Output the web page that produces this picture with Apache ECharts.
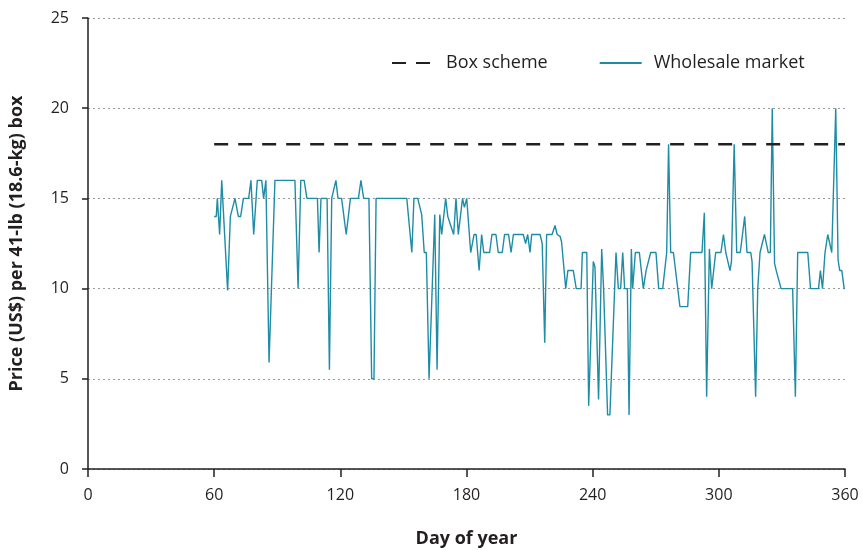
<!DOCTYPE html>
<html>
<head>
<meta charset="utf-8">
<script src="https://cdn.jsdelivr.net/npm/echarts@6/dist/echarts.min.js"></script>
<style>
html,body{margin:0;padding:0;background:#fff;}
#chart{width:863px;height:550px;}
</style>
</head>
<body>
<div id="chart"></div>
<script>
// Data (day of year, US$ per box)
const boxSchemeDays = [60, 360];
const boxSchemePrice = [18, 18];

const wholesaleDays = [60,61,61.5,62.6,63.6,66.4,67.7,68.6,69.9,71.5,72.6,73.9,76.4,77.5,78.8,80.5,82.6,83.5,84.6,86.1,88.9,98.4,99.9,101.2,102.8,104.1,109.1,109.9,110.8,113.7,114.8,115.9,116.8,117.9,118.9,120.6,122.8,124.8,128.6,129.8,131.1,133.6,134.9,136,137,151.6,154,155,156.8,158.7,159.9,160.9,162.2,163,164.9,166,167.3,168.2,169,170.1,171.1,172,173.9,175,176.1,178.1,179,180.1,182,183.6,184.6,186,187.2,188.2,191,192.1,194,195.1,197,198.1,200,201.2,202.3,207,208.1,209.1,210.2,211,215,216,217.2,218.1,220.7,222.1,223.1,224.5,225.2,227.2,228.2,230.8,232.2,234.5,235.1,237.2,238.1,240.3,241.1,242.8,244.3,245.2,246.1,247.1,248.2,251.1,252.2,253.3,254.3,255.2,256.5,257.3,258.4,259,260.3,262.2,264.1,265.4,266.3,267.6,270.1,271.4,273.3,275.2,276.1,277.1,278.4,281.5,285.2,286.6,292,293.1,294.2,295.5,296.6,297.4,298.5,301,302.2,303.3,304.2,305.3,306,307.3,308.5,310.2,312.3,313.4,315.2,315.8,317.5,318.5,319.6,320.5,321.7,322.6,323.5,324.5,325.4,326.5,327.3,328.2,329.6,335.1,336.4,337.5,342.3,343.6,347.4,348.3,349.3,350.5,351.8,352.7,353.7,354.6,355.6,356.7,357.5,358.5,359.6,360];
const wholesalePrice = [14,14,15,13,16,9.9,14,14,15,14,14,15,15,16,13,16,16,15,16,5.9,16,16,10,16,16,15,15,12,15,15,5.5,15,15,16,15,15,13,15,15,16,15,15,5,5,15,15,12,15,15,14.1,12,12,5,5,14.1,5.5,14.1,13,13,15,14,14,13,15,13,15,14.5,15,12,13,13,11,13,12,12,13,13,12,12,13,13,12,13,13,12.5,13,12,13,13,12.5,7,13,13,13.5,13,12.9,12.6,10,11,11,10,10,12,12,3.5,11.5,11.2,3.85,12.2,10,10,3,3,12,10,10,12,10,10,3,12.2,10,12,12,10,11,11,12,12,10,10,12,18,12,12,9,9,12,12,14.2,4,12.2,10,10,12,12,13,12,12,11,11.5,18,12,12,14,12,12,11.5,4,10,12,12,13,13,12,12,20,11.4,11,11,10,10,4,12,12,10,10,11,10,12,13,13,12,12,20,11.6,11,11,10,10];

const xTicks = [0, 60, 120, 180, 240, 300, 360];
const yTicks = [0, 5, 10, 15, 20, 25];

const FONT = '"Open Sans", "Noto Sans", sans-serif';
const chart = echarts.init(document.getElementById('chart'), null, {renderer: 'canvas'});

const zip = (a, b) => a.map((v, i) => [v, b[i]]);

chart.setOption({
  animation: false,
  backgroundColor: '#fff',
  textStyle: {fontFamily: FONT, color: '#231f20'},
  grid: {left: 88, right: 18, top: 18, bottom: 81, containLabel: false, outerBoundsMode: 'none'},
  legend: {
    left: 386, top: 49,
    itemWidth: 42, itemHeight: 14, itemGap: 51,
    itemStyle: {opacity: 0},
    textStyle: {fontFamily: FONT, fontSize: 18, color: '#231f20', padding: [0, 0, 0, 7]},
    data: ['Box scheme', 'Wholesale market']
  },
  xAxis: {
    type: 'value', min: xTicks[0], max: xTicks[xTicks.length - 1], interval: 60,
    name: 'Day of year', nameLocation: 'middle', nameGap: 61,
    nameTextStyle: {fontFamily: FONT, fontSize: 18, fontWeight: 'bold', color: '#231f20'},
    axisLine: {show: true, onZero: false, lineStyle: {color: '#231f20', width: 1.5}},
    axisTick: {show: true, length: 8, lineStyle: {color: '#231f20', width: 1.5}},
    axisLabel: {fontFamily: FONT, fontSize: 16, color: '#231f20', margin: 18},
    splitLine: {show: false},
    z: 5
  },
  yAxis: {
    type: 'value', min: yTicks[0], max: yTicks[yTicks.length - 1], interval: 5,
    name: 'Price (US$) per 41-lb (18.6-kg) box', nameLocation: 'middle', nameGap: 62,
    nameTextStyle: {fontFamily: FONT, fontSize: 18, fontWeight: 'bold', color: '#231f20'},
    axisLine: {show: true, lineStyle: {color: '#231f20', width: 1.5}},
    axisTick: {show: true, length: 6, lineStyle: {color: '#231f20', width: 1.5}},
    axisLabel: {fontFamily: FONT, fontSize: 16, color: '#231f20', margin: 19},
    splitLine: {show: true, lineStyle: {color: '#999', width: 1, type: [2, 3]}}
  },
  series: [
    {
      name: 'Box scheme', type: 'line', symbol: 'none', showSymbol: false,
      data: zip(boxSchemeDays, boxSchemePrice),
      lineStyle: {color: '#231f20', width: 2.5, type: [14, 10]},
      itemStyle: {color: '#231f20'},
      z: 3
    },
    {
      name: 'Wholesale market', type: 'line', symbol: 'none', showSymbol: false,
      data: zip(wholesaleDays, wholesalePrice),
      lineStyle: {color: '#1e8ca5', width: 1.4},
      itemStyle: {color: '#1e8ca5'},
      z: 2
    }
  ]
});
</script>
</body>
</html>
